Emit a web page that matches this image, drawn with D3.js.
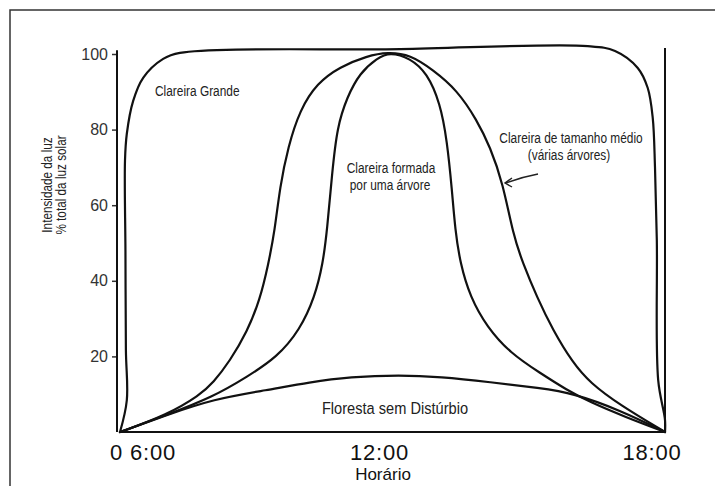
<!DOCTYPE html>
<html>
<head>
<meta charset="utf-8">
<script src="https://cdn.jsdelivr.net/npm/d3@7"></script>
<style>
  html, body { margin: 0; padding: 0; background: #fff; }
  #chart { width: 715px; height: 486px; }
  .lbl { font-family: "Liberation Sans", Arial, sans-serif; fill: #222; }
</style>
</head>
<body>
<div id="chart"></div>
<script>
// hours of day (x) and light intensity, % of full sunlight (y)
const grandeT = [6, 6.15, 6.13, 6.12, 6.11, 6.15, 6.29, 6.51, 6.95, 7.32, 12.17, 16.3, 16.9, 17.4, 17.62, 17.73, 17.78, 17.82, 17.85, 18, 18];
const grandeV = [0, 8.4, 21.6, 48, 71.8, 78.9, 87.6, 93.7, 98.7, 100.3, 101.3, 102.1, 100.8, 96.3, 91, 83.1, 69.9, 50.7, 13.7, 3.2, 0];

const medioT = [6, 7.03, 7.76, 8.05, 8.42, 8.8, 9.08, 9.26, 9.41, 9.52, 9.7, 9.96, 10.34, 10.84, 11.44, 11.9,
                12.39, 12.89, 13.42, 13.86, 14.15, 14.43, 14.66, 14.87, 15.18, 15.53, 15.97, 16.35, 17.01, 18];
const medioV = [0, 4.5, 9.8, 13, 18.8, 26.5, 35, 44, 53.4, 64.8, 75.4, 85.2, 92.3, 96.6, 99.5, 100.5,
                99.8, 95.8, 90.5, 82.5, 75.4, 65.9, 52, 44.7, 35.7, 27, 18.3, 13, 7.1, 0];

const arvoreT = [6, 7.03, 8.05, 8.8, 9.46, 9.96, 10.29, 10.47, 10.56, 10.67, 10.78, 11, 11.28, 11.66, 11.94,
                 12.39, 12.76, 13.05, 13.2, 13.31, 13.38, 13.49, 13.71, 14.08, 14.59, 15.25, 15.84, 16.35, 17.12, 18];
const arvoreV = [0, 4.5, 9.3, 14.6, 19.8, 27, 35.7, 44.7, 53.4, 68.5, 80.7, 88.6, 95, 98.9, 100.5,
                 98.9, 95, 87, 77.2, 64, 53.4, 44.7, 35.7, 27.8, 20.9, 15.6, 11.1, 7.9, 4, 0];

const florestaT = [6, 7.03, 8.05, 9.24, 10.18, 11.06, 12.17, 13.05, 14.15, 15.25, 15.97, 17.01, 18];
const florestaV = [0, 4.5, 8.7, 11.1, 13.2, 14.6, 15.1, 14.6, 13.2, 11.6, 10.3, 5.8, 0];

const yTicks = [20, 40, 60, 80, 100];
const xTicks = [6, 12, 18];
const xTickLabels = ["0 6:00", "12:00", "18:00"];

const W = 715, H = 486;
const svg = d3.select('#chart').append('svg')
  .attr('width', W).attr('height', H)
  .attr('viewBox', `0 0 ${W} ${H}`);

// scanned-page frame (left and top edges only)
svg.append('path')
  .attr('d', `M10,${H} L10,10 L${W},10`)
  .attr('fill', 'none')
  .attr('stroke', '#333')
  .attr('stroke-width', 1.5);

const x = d3.scaleLinear().domain([6, 18]).range([120, 665]);
const y = d3.scaleLinear().domain([0, 100]).range([432, 54]);

// y axis: ticks + labels, line drawn separately
const yAxis = svg.append('g')
  .attr('transform', `translate(${x(6) - 3},0)`)
  .call(d3.axisLeft(y).tickValues(yTicks).tickSize(5).tickPadding(4))
  .call(g => g.select('.domain').remove());
yAxis.selectAll('line').attr('stroke', '#333').attr('stroke-width', 1.5);
yAxis.selectAll('text')
  .attr('font-family', '"Liberation Sans", Arial, sans-serif')
  .attr('font-size', 16)
  .attr('fill', '#333');

svg.append('line')
  .attr('x1', x(6) - 3).attr('x2', x(6) - 3)
  .attr('y1', y(101)).attr('y2', y(0))
  .attr('stroke', '#111').attr('stroke-width', 2);

// right edge line at 18:00
svg.append('line')
  .attr('x1', x(18)).attr('x2', x(18))
  .attr('y1', y(101.6)).attr('y2', y(0))
  .attr('stroke', '#111').attr('stroke-width', 2);

// baseline
svg.append('line')
  .attr('x1', x(6)).attr('x2', x(18))
  .attr('y1', y(0)).attr('y2', y(0))
  .attr('stroke', '#111').attr('stroke-width', 2);

// x tick labels
svg.selectAll('.xt')
  .data(xTicks)
  .enter().append('text')
  .attr('class', 'xt')
  .attr('x', (d, i) => i === 0 ? x(d) - 10 : x(d) - 13)
  .attr('y', y(0) + 28)
  .attr('text-anchor', (d, i) => i === 0 ? 'start' : 'middle')
  .attr('font-family', '"Liberation Sans", Arial, sans-serif')
  .attr('font-size', 22)
  .attr('letter-spacing', 0.8)
  .attr('fill', '#111')
  .text((d, i) => xTickLabels[i]);

svg.append('text')
  .attr('x', 383).attr('y', 480)
  .attr('text-anchor', 'middle')
  .attr('font-family', '"Liberation Sans", Arial, sans-serif')
  .attr('font-size', 17)
  .attr('fill', '#111')
  .text('Horário');

// y axis title (condensed by horizontal squeeze)
const yt = svg.append('text')
  .attr('class', 'lbl')
  .attr('transform', 'translate(52,185) rotate(-90) scale(0.84,1)')
  .attr('text-anchor', 'middle')
  .attr('font-size', 14);
yt.append('tspan').attr('x', 0).attr('dy', 0).text('Intensidade da luz');
yt.append('tspan').attr('x', 0).attr('dy', 14).text('% total da luz solar');

// curves: the big gap keeps its sharp corners, the others are smoothed
const lineSharp = d3.line()
  .x(d => x(d[0]))
  .y(d => y(d[1]))
  .curve(d3.curveCatmullRom.alpha(0.5));
const lineSmooth = d3.line()
  .x(d => x(d[0]))
  .y(d => y(d[1]))
  .curve(d3.curveBasis);

const series = [
  { pts: d3.zip(grandeT, grandeV), gen: lineSharp },
  { pts: d3.zip(medioT, medioV), gen: lineSmooth },
  { pts: d3.zip(arvoreT, arvoreV), gen: lineSmooth },
  { pts: d3.zip(florestaT, florestaV), gen: lineSmooth }
];

svg.selectAll('.curve')
  .data(series)
  .enter().append('path')
  .attr('class', 'curve')
  .attr('d', d => d.gen(d.pts))
  .attr('fill', 'none')
  .attr('stroke', '#111')
  .attr('stroke-width', 2.2)
  .attr('stroke-linejoin', 'round')
  .attr('stroke-linecap', 'round');

// annotations, squeezed to look like the narrow typeface of the original
function label(txt, px, py, size, anchor, sx) {
  svg.append('text')
    .attr('class', 'lbl')
    .attr('transform', `translate(${px},${py}) scale(${sx || 0.82},1)`)
    .attr('text-anchor', anchor || 'middle')
    .attr('font-size', size)
    .text(txt);
}
label('Clareira Grande', 155, 96, 14.5, 'start');
label('Clareira formada', 391, 173, 14.5);
label('por uma árvore', 390, 190, 14.5);
label('Clareira de tamanho médio', 571, 143, 14.5);
label('(várias árvores)', 569, 160, 14.5);
label('Floresta sem Distúrbio', 395, 414, 17, 'middle', 0.86);

// small hand-drawn arrow toward the medium gap curve
svg.append('path')
  .attr('d', 'M538,174 Q522,177 506,183')
  .attr('fill', 'none')
  .attr('stroke', '#222')
  .attr('stroke-width', 1.4);
svg.append('path')
  .attr('d', 'M512,178 L505,183 L512,187')
  .attr('fill', 'none')
  .attr('stroke', '#222')
  .attr('stroke-width', 1.4);
</script>
</body>
</html>
